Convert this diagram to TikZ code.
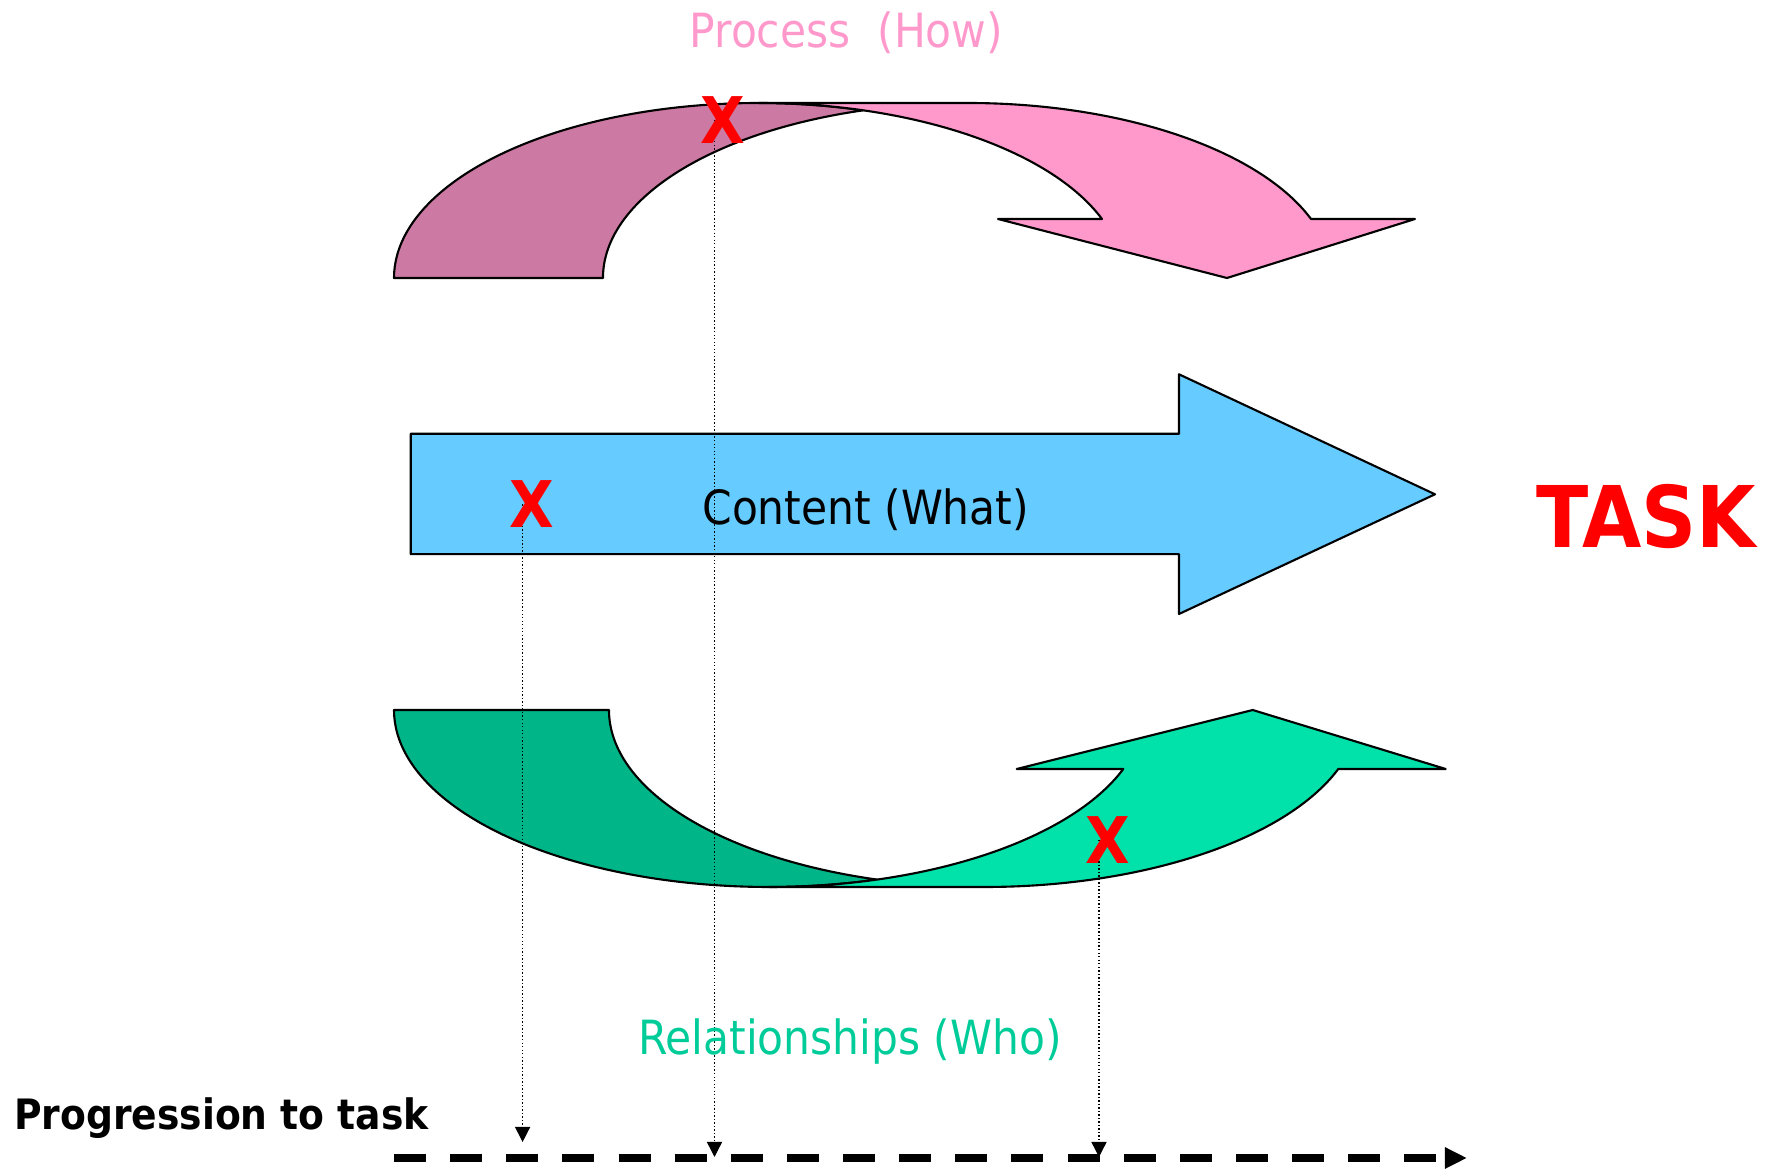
\documentclass[tikz,border=0pt]{standalone}
\usepackage{fontspec}
\setmainfont{DejaVu Sans Condensed}
\usepackage{xcolor}
\usepackage{tikz}
\usetikzlibrary{arrows.meta}

\definecolor{howpink}{HTML}{FF99CC}
\definecolor{howback}{HTML}{CC7AA3}
\definecolor{whatblue}{HTML}{66CCFF}
\definecolor{whogreen}{RGB}{0,226,170}
\definecolor{whoback}{RGB}{0,181,136}
\definecolor{whotext}{HTML}{00CC99}

\tikzset{
    band/.style={draw=black, line width=0.6pt, line join=round},
    xmark/.style={text=red, font=\fontsize{18.3}{20}\selectfont\bfseries, inner sep=0pt},
    label/.style={font=\fontsize{13.4}{15}\selectfont, inner sep=0pt, anchor=base},
    trace/.style={line width=0.4pt, dash pattern=on 0.4pt off 0.6pt, -{Triangle[length=1.5mm,width=1.5mm]}},
    progress/.style={line width=2.4pt, dash pattern=on 9.1pt off 6.86pt, -{Triangle[length=2.2mm,width=2mm]}}
}

\begin{document}
\begin{tikzpicture}[x=0.01cm, y=0.01cm]
    \useasboundingbox (0,0) rectangle (1771,1169);

    % process arrow (top)
    \draw[band, fill=howback] (394,891)
        arc[start angle=180, end angle=73.35, x radius=364.7, y radius=175]
        arc[start angle=106.65, end angle=180, x radius=364.7, y radius=175] -- cycle;
    \draw[band, fill=howpink] (1227,891) -- (998,950) -- (1102,950)
        arc[start angle=19.7, end angle=90, x radius=364.7, y radius=175] -- (967.7,1066)
        arc[start angle=90, end angle=19.7, x radius=364.7, y radius=175] -- (1415,950) -- cycle;

    % content arrow
    \draw[band, fill=whatblue] (410.7,614.8) -- (410.7,735.2) -- (1179,735.2) -- (1179,794.7)
        -- (1435,674.7) -- (1179,555) -- (1179,614.8) -- cycle;

    % relationships arrow (bottom)
    \draw[band, fill=whoback] (394,459)
        arc[start angle=180, end angle=286.64, x radius=375.4, y radius=177]
        arc[start angle=253.36, end angle=180, x radius=375.4, y radius=177] -- cycle;
    \draw[band, fill=whogreen] (1252.7,459) -- (1016.7,400) -- (1123.3,400)
        arc[start angle=-19.47, end angle=-90, x radius=375.4, y radius=177] -- (984.4,282)
        arc[start angle=-90, end angle=-19.47, x radius=375.4, y radius=177] -- (1445.7,400) -- cycle;

    \coordinate (start) at (394,11);
    \coordinate (end) at (1467,11);
    \draw[progress] (start) -- (end);

    \foreach \i/\cx/\cy/\tx/\ty in {1/723/1049/714.5/12, 2/531.5/664.5/522.6/27, 3/1108/329/1099/12}{
        \coordinate (c\i) at (\cx,\cy);
        \coordinate (p\i) at (\tx,\ty);
        \draw[trace] (c\i -| p\i) -- (p\i);
    }
    \foreach \i in {1,2,3}
        \node[xmark] (x\i) at (c\i) {X};

    \node[label, text=howpink] (how) at (846.5,1121) {Process\ \ (How)};
    \node[label] (what) at (865.7,644) {Content (What)};
    \node[label, text=whotext] (who) at (850,114) {Relationships (Who)};
    \node[label, text=red, font=\fontsize{24.2}{26}\selectfont\bfseries] (task) at (1646,621) {TASK};
    \node[label, anchor=base west, font=\fontsize{11.9}{13}\selectfont\bfseries] (prog) at (13.6,39) {Progression to task};
\end{tikzpicture}
\end{document}
